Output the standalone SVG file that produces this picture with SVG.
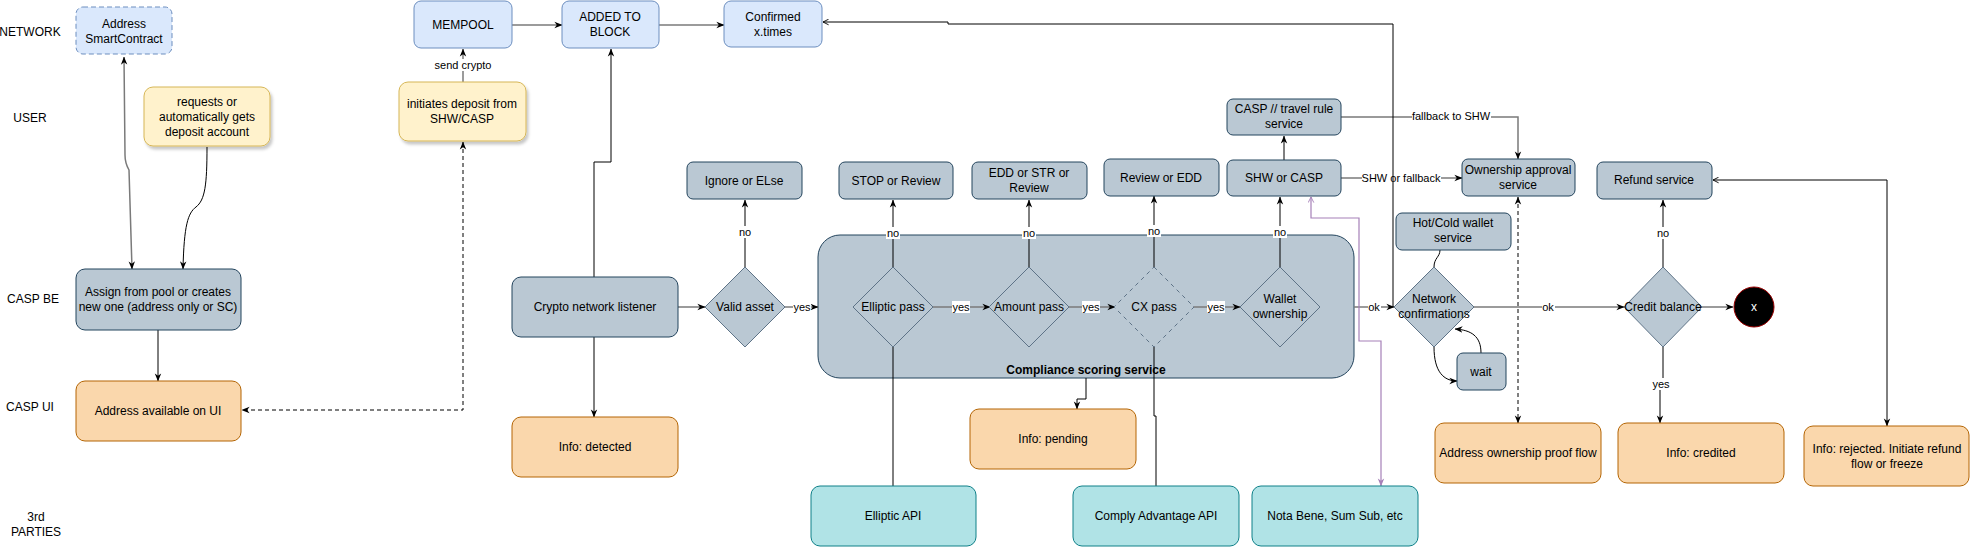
<svg xmlns="http://www.w3.org/2000/svg" width="1971" height="547" viewBox="0 0 1971 547">
<defs>
<marker id="a" viewBox="0 0 10 10" refX="9.5" refY="5" markerWidth="8" markerHeight="8" markerUnits="userSpaceOnUse" orient="auto-start-reverse"><path d="M0,1 L10,5 L0,9 L3,5 z" fill="#000"/></marker>
<marker id="o" viewBox="0 0 10 10" refX="9" refY="5" markerWidth="7" markerHeight="7" markerUnits="userSpaceOnUse" orient="auto-start-reverse"><path d="M1,1 L9,5 L1,9" fill="none" stroke="#000" stroke-width="1.3"/></marker>
<marker id="p" viewBox="0 0 10 10" refX="9.5" refY="5" markerWidth="8" markerHeight="8" markerUnits="userSpaceOnUse" orient="auto-start-reverse"><path d="M0,1 L10,5 L0,9 L3,5 z" fill="#a680b8"/></marker>
<marker id="po" viewBox="0 0 10 10" refX="9" refY="5" markerWidth="7" markerHeight="7" markerUnits="userSpaceOnUse" orient="auto-start-reverse"><path d="M1,1 L9,5 L1,9" fill="none" stroke="#a680b8" stroke-width="1.3"/></marker>
<filter id="sh" x="-10%" y="-10%" width="130%" height="140%"><feDropShadow dx="2" dy="3" stdDeviation="1.5" flood-color="#000" flood-opacity="0.22"/></filter>
</defs>
<style>
text{font-family:"Liberation Sans",Arial,Helvetica,sans-serif;font-size:12px;fill:#000;text-anchor:middle}
.lb{font-size:11px}
.bold{font-weight:bold}
.blue{fill:#dae8fc;stroke:#6c8ebf}
.yel{fill:#fff2cc;stroke:#d6b656}
.gb{fill:#bac8d3;stroke:#23445d}
.dia{fill:#bac8d3;stroke:#5e7387}
.or{fill:#fad7ac;stroke:#b46504}
.teal{fill:#b0e3e6;stroke:#0e8088}
.e{fill:none;stroke:#000;stroke-width:1}
.g{stroke:#7a7a7a;stroke-width:1.5}
.d{stroke-dasharray:4 3}
.pu{fill:none;stroke:#a680b8;stroke-width:1.2}
.bg{fill:#fff}
</style>
<rect width="1971" height="547" fill="#fff"/>

<g id="lanes">
<text x="30" y="36">NETWORK</text>
<text x="30" y="122">USER</text>
<text x="33" y="303">CASP BE</text>
<text x="30" y="411">CASP UI</text>
<text x="36" y="521">3rd</text>
<text x="36" y="536">PARTIES</text>
</g>

<g id="compliance">
<rect class="gb" x="818" y="235" width="536" height="143" rx="22"/>
<text class="bold" x="1086" y="374">Compliance scoring service</text>
</g>

<g id="connectors">
<path class="e g" d="M124,57 L125,155 Q125,163 129,170 L132,269" marker-start="url(#a)" marker-end="url(#a)"/>
<path class="e" d="M207,147 C207,185 205,200 196,207 C188,213 184,225 183,269" marker-end="url(#a)"/>
<path class="e" d="M158,330 V381" marker-end="url(#a)"/>
<path class="e d" stroke="#333" d="M463,142 V410 H242" marker-start="url(#a)" marker-end="url(#a)"/>
<path class="e g" d="M463,82 V49" marker-end="url(#a)"/>
<rect class="bg" x="434" y="59" width="58" height="12"/>
<text class="lb" x="463" y="69">send crypto</text>
<path class="e g" d="M512,25 H562" marker-end="url(#a)"/>
<path class="e g" d="M659,25 H724" marker-end="url(#a)"/>
<path class="e" d="M594,277 V162 H611 V49" marker-end="url(#a)"/>
<path class="e" d="M594,337 V417" marker-end="url(#a)"/>
<path class="e g" d="M678,307 H705" marker-end="url(#a)"/>
<path class="e" d="M745,267 V200" marker-end="url(#a)"/>
<rect class="bg" x="738" y="226" width="14" height="12"/>
<text class="lb" x="745" y="236">no</text>
<path class="e g" d="M785,307 H818" marker-end="url(#a)"/>
<rect class="bg" x="793" y="301" width="18" height="12"/>
<text class="lb" x="802" y="311">yes</text>
<path class="e" d="M893,267 V200" marker-end="url(#a)"/>
<rect class="bg" x="886" y="227" width="14" height="12"/>
<text class="lb" x="893" y="237">no</text>
<path class="e g" d="M933,307 H990" marker-end="url(#a)"/>
<rect class="bg" x="952" y="301" width="18" height="12"/>
<text class="lb" x="961" y="311">yes</text>
<path class="e" d="M1029,267 V200" marker-end="url(#a)"/>
<rect class="bg" x="1022" y="227" width="14" height="12"/>
<text class="lb" x="1029" y="237">no</text>
<path class="e g" d="M1069,307 H1115" marker-end="url(#a)"/>
<rect class="bg" x="1082" y="301" width="18" height="12"/>
<text class="lb" x="1091" y="311">yes</text>
<path class="e" d="M1154,267 V196" marker-end="url(#a)"/>
<rect class="bg" x="1147" y="225" width="14" height="12"/>
<text class="lb" x="1154" y="235">no</text>
<path class="e g" d="M1193,307 H1240" marker-end="url(#a)"/>
<rect class="bg" x="1207" y="301" width="18" height="12"/>
<text class="lb" x="1216" y="311">yes</text>
<path class="e" d="M1280,267 V197" marker-end="url(#a)"/>
<rect class="bg" x="1273" y="226" width="14" height="12"/>
<text class="lb" x="1280" y="236">no</text>
<path class="e" d="M1284,160 V136" marker-end="url(#a)"/>
<path class="e g" d="M1341,178 H1462" marker-end="url(#a)"/>
<rect class="bg" x="1362" y="172" width="79" height="12"/>
<text class="lb" x="1401" y="182">SHW or fallback</text>
<path class="e g" d="M1341,117 H1518 V159" marker-end="url(#a)"/>
<rect class="bg" x="1412" y="110" width="79" height="12"/>
<text class="lb" x="1451" y="120">fallback to SHW</text>
<path class="e g" d="M1354,307 H1394" marker-end="url(#a)"/>
<rect class="bg" x="1368" y="301" width="13" height="12"/>
<text class="lb" x="1374" y="311">ok</text>
<path class="e" d="M1393,307 V24 H948 V22 H823" marker-end="url(#o)"/>
<path class="e g" d="M1474,307 H1624" marker-end="url(#a)"/>
<rect class="bg" x="1542" y="301" width="13" height="12"/>
<text class="lb" x="1548" y="311">ok</text>
<path class="e g" d="M1702,307 H1733" marker-end="url(#a)"/>
<path class="e" d="M1663,267 V200" marker-end="url(#a)"/>
<rect class="bg" x="1656" y="227" width="14" height="12"/>
<text class="lb" x="1663" y="237">no</text>
<path class="e" d="M1663,347 V384 H1660 V423" marker-end="url(#a)"/>
<rect class="bg" x="1652" y="378" width="18" height="12"/>
<text class="lb" x="1661" y="388">yes</text>
<path class="e" d="M1434,267 C1434,258 1440,257 1440,250"/>
<path class="e" d="M1434,347 C1434,372 1444,381 1457,381" marker-end="url(#a)"/>
<path class="e" d="M1481,353 C1481,336 1471,330 1455,329" marker-end="url(#a)"/>
<path class="e d" d="M1518,197 V423" marker-start="url(#a)" marker-end="url(#a)"/>
<path class="e" d="M1887,426 V180 H1713" marker-start="url(#a)" marker-end="url(#o)"/>
<path class="e" d="M893,347 V486"/>
<path class="e" d="M1154,347 V416 H1156 V486"/>
<path class="e" d="M1086,378 V399 H1077 V409" marker-end="url(#a)"/>
<path class="pu" d="M1311,197 V218 H1359 V341 H1381 V486" marker-start="url(#po)" marker-end="url(#p)"/>
</g>

<g id="address-smartcontract"><rect class="blue" x="76" y="7" width="96" height="47" rx="7" stroke-dasharray="5 3"/><text x="124" y="28">Address</text><text x="124" y="43">SmartContract</text></g>
<g id="requests-deposit"><rect class="yel" x="144" y="87" width="126" height="59" rx="9" filter="url(#sh)"/><text x="207" y="106">requests or</text><text x="207" y="121">automatically gets</text><text x="207" y="136">deposit account</text></g>
<g id="assign-address"><rect class="gb" x="76" y="269" width="165" height="61" rx="9"/><text x="158" y="296">Assign from pool or creates</text><text x="158" y="311">new one (address only or SC)</text></g>
<g id="address-ui"><rect class="or" x="76" y="381" width="165" height="60" rx="9"/><text x="158" y="415">Address available on UI</text></g>
<g id="mempool"><rect class="blue" x="414" y="1" width="98" height="47" rx="7"/><text x="463" y="29">MEMPOOL</text></g>
<g id="initiates-deposit"><rect class="yel" x="399" y="82" width="127" height="59" rx="9" filter="url(#sh)"/><text x="462" y="108">initiates deposit from</text><text x="462" y="123">SHW/CASP</text></g>
<g id="added-to-block"><rect class="blue" x="562" y="1" width="97" height="47" rx="7"/><text x="610" y="21">ADDED TO</text><text x="610" y="36">BLOCK</text></g>
<g id="confirmed"><rect class="blue" x="724" y="1" width="98" height="46" rx="7"/><text x="773" y="21">Confirmed</text><text x="773" y="36">x.times</text></g>
<g id="crypto-listener"><rect class="gb" x="512" y="277" width="166" height="60" rx="9"/><text x="595" y="311">Crypto network listener</text></g>
<g id="info-detected"><rect class="or" x="512" y="417" width="166" height="60" rx="9"/><text x="595" y="451">Info: detected</text></g>
<g id="valid-asset"><path class="dia" d="M745,267 L785,307 L745,347 L705,307 Z"/><text x="745" y="311">Valid asset</text></g>
<g id="ignore"><rect class="gb" x="687" y="162" width="115" height="37" rx="6"/><text x="744" y="185">Ignore or ELse</text></g>
<g id="elliptic-pass"><path class="dia" d="M893,267 L933,307 L893,347 L853,307 Z"/><text x="893" y="311">Elliptic pass</text></g>
<g id="stop-review"><rect class="gb" x="839" y="162" width="114" height="37" rx="6"/><text x="896" y="185">STOP or Review</text></g>
<g id="amount-pass"><path class="dia" d="M1029,267 L1069,307 L1029,347 L989,307 Z"/><text x="1029" y="311">Amount pass</text></g>
<g id="edd-str"><rect class="gb" x="972" y="162" width="115" height="37" rx="6"/><text x="1029" y="177">EDD or STR or</text><text x="1029" y="192">Review</text></g>
<g id="cx-pass"><path class="dia" d="M1154,267 L1194,307 L1154,347 L1114,307 Z" stroke-dasharray="4 4"/><text x="1154" y="311">CX pass</text></g>
<g id="review-edd"><rect class="gb" x="1104" y="159" width="115" height="37" rx="6"/><text x="1161" y="182">Review or EDD</text></g>
<g id="wallet-ownership"><path class="dia" d="M1280,267 L1320,307 L1280,347 L1240,307 Z"/><text x="1280" y="303">Wallet</text><text x="1280" y="318">ownership</text></g>
<g id="shw-casp"><rect class="gb" x="1227" y="160" width="114" height="36" rx="6"/><text x="1284" y="182">SHW or CASP</text></g>
<g id="travel-rule"><rect class="gb" x="1227" y="99" width="114" height="36" rx="6"/><text x="1284" y="113">CASP // travel rule</text><text x="1284" y="128">service</text></g>
<g id="ownership-approval"><rect class="gb" x="1462" y="159" width="113" height="37" rx="6"/><text x="1518" y="174">Ownership approval</text><text x="1518" y="189">service</text></g>
<g id="refund-service"><rect class="gb" x="1597" y="162" width="115" height="37" rx="6"/><text x="1654" y="184">Refund service</text></g>
<g id="hot-cold"><rect class="gb" x="1396" y="213" width="115" height="37" rx="6"/><text x="1453" y="227">Hot/Cold wallet</text><text x="1453" y="242">service</text></g>
<g id="network-confirmations"><path class="dia" d="M1434,267 L1474,307 L1434,347 L1394,307 Z"/><text x="1434" y="303">Network</text><text x="1434" y="318">confirmations</text></g>
<g id="wait"><rect class="gb" x="1457" y="353" width="49" height="37" rx="6"/><text x="1481" y="376">wait</text></g>
<g id="credit-balance"><path class="dia" d="M1663,267 L1702,307 L1663,347 L1624,307 Z"/><text x="1663" y="311">Credit balance</text></g>
<g id="end"><circle cx="1754" cy="307" r="20" fill="#000" stroke="#990000"/><text x="1754" y="311" fill="#fff" style="fill:#fff">x</text></g>
<g id="ownership-proof"><rect class="or" x="1435" y="423" width="166" height="60" rx="9"/><text x="1518" y="457">Address ownership proof flow</text></g>
<g id="info-credited"><rect class="or" x="1618" y="423" width="166" height="60" rx="9"/><text x="1701" y="457">Info: credited</text></g>
<g id="info-rejected"><rect class="or" x="1804" y="426" width="165" height="60" rx="9"/><text x="1887" y="453">Info: rejected. Initiate refund</text><text x="1887" y="468">flow or freeze</text></g>
<g id="info-pending"><rect class="or" x="970" y="409" width="166" height="60" rx="9"/><text x="1053" y="443">Info: pending</text></g>
<g id="elliptic-api"><rect class="teal" x="811" y="486" width="165" height="60" rx="9"/><text x="893" y="520">Elliptic API</text></g>
<g id="comply-api"><rect class="teal" x="1073" y="486" width="166" height="60" rx="9"/><text x="1156" y="520">Comply Advantage API</text></g>
<g id="nota-bene"><rect class="teal" x="1252" y="486" width="166" height="60" rx="9"/><text x="1335" y="520">Nota Bene, Sum Sub, etc</text></g>
</svg>
